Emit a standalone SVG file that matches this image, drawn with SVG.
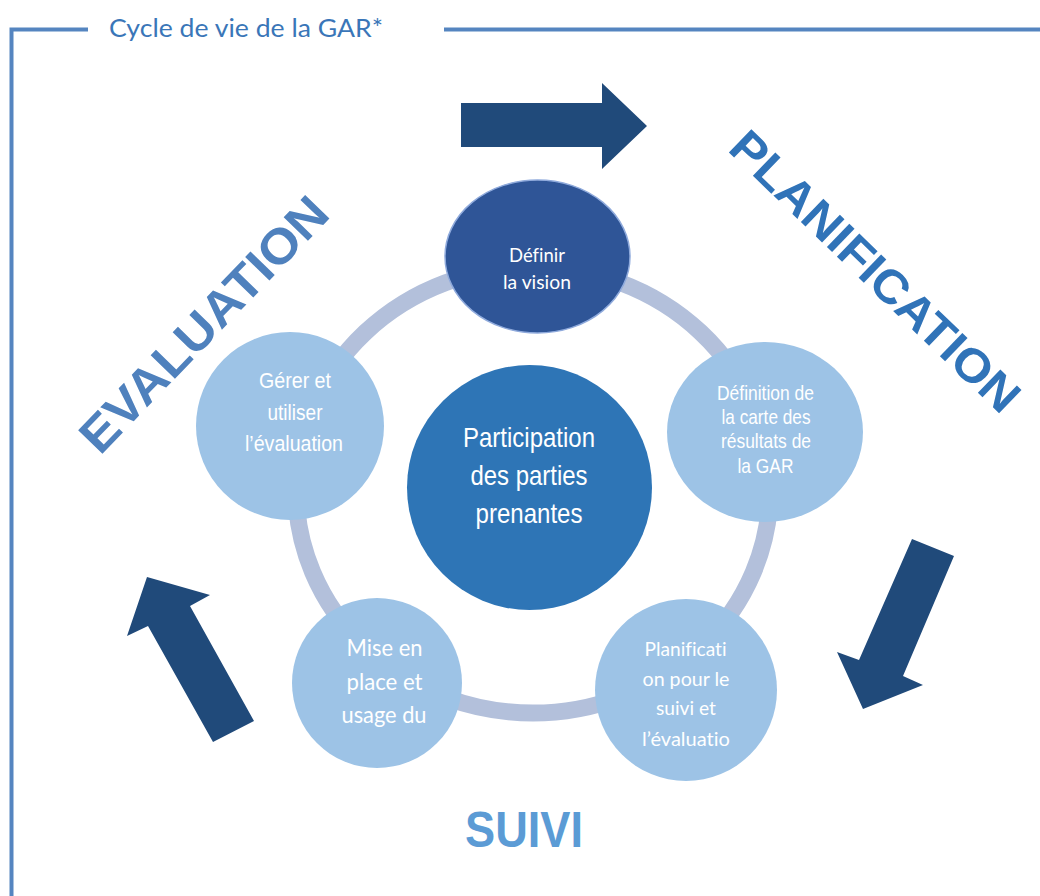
<svg xmlns="http://www.w3.org/2000/svg" width="1040" height="896" viewBox="0 0 1040 896">
<style>
.frame{stroke:#5585c0;stroke-width:4;fill:none}
.arrow{fill:#204a7a}
.ring{fill:none;stroke:#b3c0db;stroke-width:17}
.light{fill:#9dc3e6}
.cal{font-family:Lato,"Open Sans","Noto Sans",sans-serif;fill:#ffffff;font-variant-ligatures:none}
.ar{font-family:"Liberation Sans Narrow","Liberation Sans",Arial,sans-serif;fill:#ffffff}
.big{font-family:"Liberation Sans",Arial,sans-serif;font-weight:bold}
</style>
<rect width="1040" height="896" fill="#ffffff"/>
<g id="frame">
<path class="frame" d="M88,29.5 H11.5 V896"/>
<path class="frame" d="M444,29.5 H1040"/>
<text x="109" y="37" font-family="Lato,'Open Sans',sans-serif" font-size="25" fill="#3a76b8" textLength="274" lengthAdjust="spacingAndGlyphs">Cycle de vie de la GAR*</text>
</g>
<g id="connectors">
<ellipse class="ring" cx="533" cy="490" rx="237" ry="223"/>
<polygon class="arrow" points="461,103 602,103 602,83 647,126 602,169 602,147 461,147"/>
<polygon class="arrow" points="912,539 954,556 903,676 923,685 863,709 837,652 859,660"/>
<polygon class="arrow" points="147,577 210,595 190,606 254,721 213,742 148,626 127,636"/>
</g>
<g id="title-planification">
<text class="big" transform="translate(864,283) rotate(44)" text-anchor="middle" font-size="47" fill="#3073b8" textLength="382" lengthAdjust="spacingAndGlyphs">PLANIFICATION</text>
</g>
<g id="title-evaluation">
<text class="big" transform="translate(216,336) rotate(-46)" text-anchor="middle" font-size="49" fill="#4f81bd" textLength="334" lengthAdjust="spacingAndGlyphs">EVALUATION</text>
</g>
<g id="title-suivi">
<text class="big" x="524" y="847" text-anchor="middle" font-size="50" fill="#5b9bd5" textLength="118" lengthAdjust="spacingAndGlyphs">SUIVI</text>
</g>
<g id="node-vision">
<ellipse cx="537.5" cy="256.5" rx="92.5" ry="76.5" fill="#2f5597" stroke="#8faadc" stroke-width="1.5"/>
<text class="cal" x="537" y="262" text-anchor="middle" font-size="19" textLength="56" lengthAdjust="spacingAndGlyphs">Définir</text>
<text class="cal" x="537" y="289" text-anchor="middle" font-size="19" textLength="68" lengthAdjust="spacingAndGlyphs">la vision</text>
</g>
<g id="node-carte">
<ellipse class="light" cx="765" cy="432" rx="98" ry="90"/>
<text class="ar" x="765.5" y="400" text-anchor="middle" font-size="21" textLength="97" lengthAdjust="spacingAndGlyphs">Définition de</text>
<text class="ar" x="766" y="423.5" text-anchor="middle" font-size="21" textLength="89" lengthAdjust="spacingAndGlyphs">la carte des</text>
<text class="ar" x="766" y="448" text-anchor="middle" font-size="21" textLength="90" lengthAdjust="spacingAndGlyphs">résultats de</text>
<text class="ar" x="765.5" y="473" text-anchor="middle" font-size="21" textLength="56" lengthAdjust="spacingAndGlyphs">la GAR</text>
</g>
<g id="node-planif">
<circle class="light" cx="686" cy="690" r="91"/>
<text class="cal" x="685.5" y="656" text-anchor="middle" font-size="20" textLength="82" lengthAdjust="spacingAndGlyphs">Planificati</text>
<text class="cal" x="686" y="686" text-anchor="middle" font-size="20" textLength="87" lengthAdjust="spacingAndGlyphs">on pour le</text>
<text class="cal" x="686" y="715" text-anchor="middle" font-size="20" textLength="60" lengthAdjust="spacingAndGlyphs">suivi et</text>
<text class="cal" x="686" y="746" text-anchor="middle" font-size="20" textLength="88" lengthAdjust="spacingAndGlyphs">l’évaluatio</text>
</g>
<g id="node-mise">
<circle class="light" cx="377" cy="683" r="85"/>
<text class="cal" x="384.5" y="656" text-anchor="middle" font-size="23" textLength="76" lengthAdjust="spacingAndGlyphs">Mise en</text>
<text class="cal" x="384.5" y="690" text-anchor="middle" font-size="23" textLength="76" lengthAdjust="spacingAndGlyphs">place et</text>
<text class="cal" x="384" y="722.5" text-anchor="middle" font-size="23" textLength="85" lengthAdjust="spacingAndGlyphs">usage du</text>
</g>
<g id="node-gerer">
<circle class="light" cx="290" cy="426" r="94"/>
<text class="ar" x="295" y="388" text-anchor="middle" font-size="22" textLength="72" lengthAdjust="spacingAndGlyphs">Gérer et</text>
<text class="ar" x="295" y="420" text-anchor="middle" font-size="22" textLength="55" lengthAdjust="spacingAndGlyphs">utiliser</text>
<text class="ar" x="294" y="451" text-anchor="middle" font-size="22" textLength="98" lengthAdjust="spacingAndGlyphs">l’évaluation</text>
</g>
<g id="node-participation">
<circle cx="529.5" cy="487.5" r="122.5" fill="#2e75b6"/>
<text class="ar" x="529" y="447" text-anchor="middle" font-size="28" textLength="132" lengthAdjust="spacingAndGlyphs">Participation</text>
<text class="ar" x="529" y="485" text-anchor="middle" font-size="28" textLength="117" lengthAdjust="spacingAndGlyphs">des parties</text>
<text class="ar" x="529" y="523" text-anchor="middle" font-size="28" textLength="107" lengthAdjust="spacingAndGlyphs">prenantes</text>
</g>
</svg>
